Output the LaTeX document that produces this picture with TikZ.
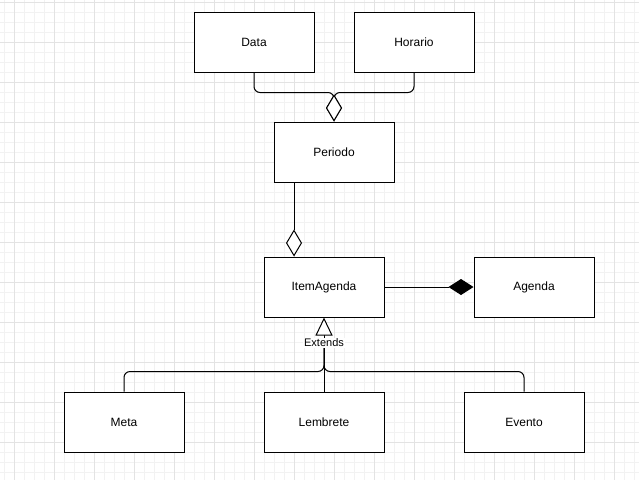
\documentclass[tikz,border=0pt]{standalone}
\usepackage{fontspec}
\setmainfont{Liberation Sans}
\usetikzlibrary{arrows.meta,calc}
\begin{document}
\begin{tikzpicture}[x=1pt,y=-1pt,
  cls/.style={draw=black,line width=1pt,fill=white,minimum width=120pt,minimum height=60pt,inner sep=0pt,font=\fontsize{12}{14}\selectfont},
  conn/.style={draw=black,line width=1pt,rounded corners=6pt,line join=miter},
  agg/.style={conn,-{Diamond[open,fill=white,length=27pt,width=16pt,line width=1pt]}},
  comp/.style={conn,-{Diamond[fill=black,length=25pt,width=16pt,line width=1pt]}},
  gen/.style={conn,-{Triangle[open,fill=white,length=18pt,width=17pt,line width=1pt]}},
  minorgrid/.style={draw=black!5,line width=0.6pt},
  majorgrid/.style={draw=black!11,line width=0.8pt}]
\useasboundingbox (0,0) rectangle (639,480);
\fill[white] (0,0) rectangle (639,480);
% grid
\foreach \gx in {4,14,...,634} \draw[minorgrid] (\gx,0) -- (\gx,480);
\foreach \gy in {2,12,...,472} \draw[minorgrid] (0,\gy) -- (639,\gy);
\foreach \gx in {14,54,...,614} \draw[majorgrid] (\gx,0) -- (\gx,480);
\foreach \gy in {2,42,...,442} \draw[majorgrid] (0,\gy) -- (639,\gy);
% classes
\node[cls] (data) at (254,42) {Data};
\node[cls] (horario) at (414,42) {Horario};
\node[cls] (periodo) at (334,152) {Periodo};
\node[cls] (item) at (324,287) {ItemAgenda};
\node[cls] (agenda) at (534,287) {Agenda};
\node[cls] (meta) at (124,422) {Meta};
\node[cls] (lembrete) at (324,422) {Lembrete};
\node[cls] (evento) at (524,422) {Evento};
% aggregation Data/Horario -> Periodo
\draw[agg] (data.south) -- ++(0,20) -| (periodo.north);
\draw[agg] (horario.south) -- ++(0,20) -| (periodo.north);
% Periodo -> ItemAgenda
\draw[agg,rounded corners=0pt] ([xshift=-40pt]periodo.south) -- ([xshift=-30pt]item.north);
% ItemAgenda -> Agenda composition
\draw[comp,rounded corners=0pt] (item.east) -- (agenda.west);
% generalization
\node[fill=white,inner sep=1pt,font=\fontsize{11}{13}\selectfont] (ext) at (324,343) {Extends};
\coordinate (j) at ($(lembrete.north)+(0,-20)$);
\draw[conn] (meta.north) |- (j) -- (ext.south);
\draw[conn] (evento.north) |- (j) -- (ext.south);
\draw[conn] (lembrete.north) -- (ext.south);
\draw[gen,rounded corners=0pt] (ext.north) -- (item.south);
\end{tikzpicture}
\end{document}
